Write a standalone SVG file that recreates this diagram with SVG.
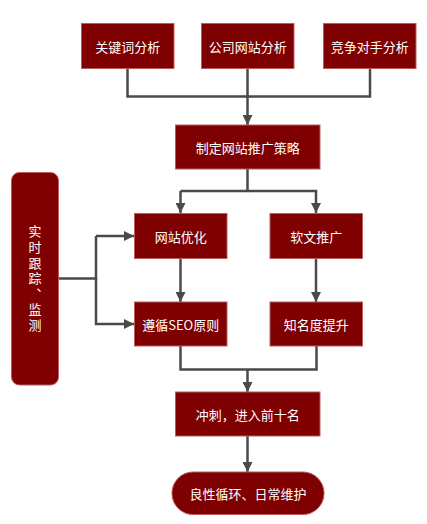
<svg xmlns="http://www.w3.org/2000/svg" width="427" height="524" viewBox="0 0 427 524">
<defs>
<marker id="arr" viewBox="0 0 10 10" refX="10" refY="5" markerWidth="4" markerHeight="4" markerUnits="strokeWidth" orient="auto">
<path d="M0,0 L10,5 L0,10 z" fill="#4a4a4a"/>
</marker>
<style>
.box{fill:#7f0000;stroke:#b85c5c;stroke-width:1}
.t{fill:#ffffff;font-family:"Noto Sans CJK SC","Microsoft YaHei",sans-serif;font-size:13px;text-anchor:middle;dominant-baseline:central}
.v{fill:#ffffff;font-family:"Noto Sans CJK SC","Microsoft YaHei",sans-serif;font-size:13px;text-anchor:middle;writing-mode:vertical-rl;text-orientation:upright;letter-spacing:2.6px;font-feature-settings:"vert" 0,"vrt2" 0}
.c{fill:none;stroke:#4a4a4a;stroke-width:2.5}
.ca{fill:none;stroke:#4a4a4a;stroke-width:2.5;marker-end:url(#arr)}
</style>
</defs>
<rect width="427" height="524" fill="#ffffff"/>
<g id="connectors">
<path class="c" d="M127.5,68 V96.5 H370 V68"/>
<path class="ca" d="M247.5,68 V125"/>
<path class="c" d="M247.5,169 V191 H180.5"/>
<path class="ca" d="M180.5,191 V213"/>
<path class="ca" d="M247.5,191 H316 V213"/>
<path class="ca" d="M180.5,258 V302"/>
<path class="ca" d="M316,258 V302"/>
<path class="c" d="M58,278.5 H96 V236"/>
<path class="ca" d="M96,236 H134"/>
<path class="ca" d="M96,278.5 V324 H134"/>
<path class="c" d="M180.5,346 V369.5 H316.5 V346"/>
<path class="ca" d="M247.5,369.5 V392"/>
<path class="ca" d="M247.5,436 V472"/>
</g>
<g id="n1"><rect class="box" x="81.5" y="23.5" width="92.5" height="45"/><text class="t" x="127.7" y="46">关键词分析</text></g>
<g id="n2"><rect class="box" x="201.5" y="23.5" width="92.5" height="45"/><text class="t" x="247.7" y="46">公司网站分析</text></g>
<g id="n3"><rect class="box" x="323.5" y="23.5" width="92.5" height="45"/><text class="t" x="369.8" y="46">竞争对手分析</text></g>
<g id="n4"><rect class="box" x="175.5" y="125" width="144.5" height="44"/><text class="t" x="247.7" y="147">制定网站推广策略</text></g>
<g id="n5"><rect class="box" x="134.5" y="213.5" width="92.5" height="45"/><text class="t" x="180.7" y="236">网站优化</text></g>
<g id="n6"><rect class="box" x="270" y="213.5" width="92.5" height="45"/><text class="t" x="316.2" y="236">软文推广</text></g>
<g id="n7"><rect class="box" x="134.5" y="302" width="92.5" height="44"/><text class="t" x="180.7" y="324">遵循SEO原则</text></g>
<g id="n8"><rect class="box" x="270" y="302" width="92.5" height="44"/><text class="t" x="316.2" y="324">知名度提升</text></g>
<g id="n9"><rect class="box" x="175.5" y="392" width="144.5" height="44"/><text class="t" x="247.7" y="414">冲刺，进入前十名</text></g>
<g id="n10"><rect class="box" x="172" y="472" width="152" height="42.5" rx="21" ry="21"/><text class="t" x="248" y="493">良性循环、日常维护</text></g>
<g id="n11"><rect class="box" x="11.5" y="172.5" width="47" height="212.5" rx="8" ry="8"/>
<text class="v" x="35" y="279.5">实时跟踪、监测</text>
</g>
</svg>
